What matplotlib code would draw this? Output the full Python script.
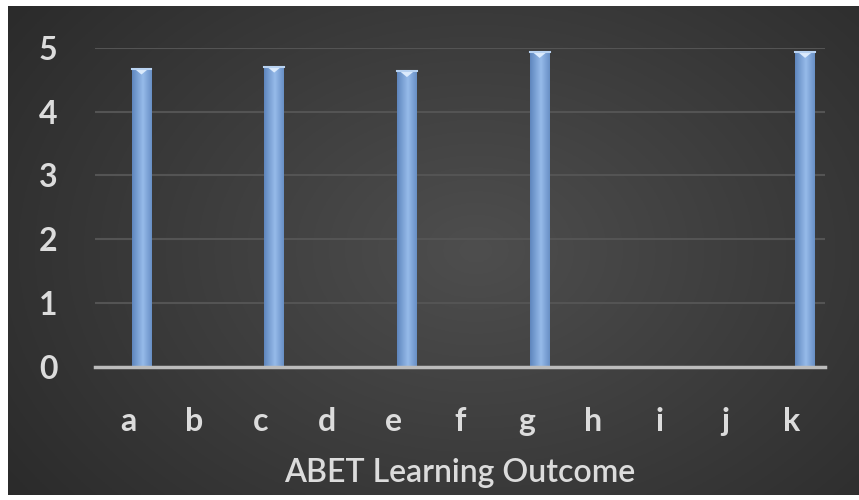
import numpy as np
import matplotlib.pyplot as plt
from matplotlib.patches import Polygon

# ABET outcome ratings (only some outcomes were assessed)
outcomes = ["a", "b", "c", "d", "e", "f", "g", "h", "i", "j", "k"]
rated = ["a", "c", "e", "g", "k"]
rated_scores = [4.67, 4.70, 4.63, 4.93, 4.93]
y_ticks = [0, 1, 2, 3, 4, 5]

W, H = 859, 500
fig = plt.figure(figsize=(W / 100, H / 100), dpi=100, facecolor="white")

# dark radial background panel
bg = fig.add_axes([8 / W, 5 / H, 1 - 8 / W, 1 - 11 / H])
bg.axis("off")
yy, xx = np.mgrid[0:1:300j, 0:1:500j]
d = np.sqrt(((xx - 0.55) / 0.75) ** 2 + ((yy - 0.5) / 0.95) ** 2)
shade = (0x4e - (0x4e - 0x27) * np.clip(d, 0, 1)) / 255
bg.imshow(np.dstack([shade, shade, shade]), extent=[0, 1, 0, 1], aspect="auto")
bg.set_xlim(0, 1)
bg.set_ylim(0, 1)

ax = fig.add_axes([95 / W, 133 / H, 730 / W, 319.3 / H])
ax.set_facecolor("none")

x = np.arange(len(outcomes))
pos = [outcomes.index(r) + 0.2 for r in rated]
bars = ax.bar(pos, rated_scores, width=0.3, color="#7ea6da", zorder=3)

# shaded cylinder look for each column
grad = np.linspace(0, 1, 60)
profile = 1 - np.abs(grad - 0.55) * 1.4
edge = np.array([0x4e, 0x76, 0xb0]) / 255
mid = np.array([0x96, 0xbb, 0xea]) / 255
cols = edge + (mid - edge) * np.clip(profile, 0, 1)[:, None]
for b in bars:
    x0, w, h = b.get_x(), b.get_width(), b.get_height()
    im = ax.imshow(cols[None, :, :], extent=[x0, x0 + w, 0, h],
                   aspect="auto", zorder=4)
    im.set_clip_path(b)
    tri = Polygon([(x0 + w * 0.15, h), (x0 + w * 0.85, h),
                   (x0 + w * 0.5, h - 0.09)], closed=True,
                  facecolor="#dcebfc", edgecolor="none", zorder=5)
    ax.add_patch(tri)
    ax.plot([x0, x0 + w], [h, h], color="#b9d3f2", lw=1.5, zorder=5)

ax.set_xlim(-0.5, len(outcomes) - 0.5)
ax.set_ylim(0, 5)
ax.set_xticks(x)
ax.set_xticklabels(outcomes)
ax.set_yticks(y_ticks)

ax.yaxis.grid(True, color="#545454", lw=1.5, zorder=0)
ax.set_axisbelow(True)
for s in ["top", "right", "left"]:
    ax.spines[s].set_visible(False)
ax.spines["bottom"].set_color("#bcbcbc")
ax.spines["bottom"].set_linewidth(2.5)
ax.spines["bottom"].set_zorder(6)

ax.tick_params(axis="both", length=0, colors="#dcdcdc")
ax.tick_params(axis="y", pad=27)
ax.tick_params(axis="x", pad=29)
for t in ax.get_xticklabels() + ax.get_yticklabels():
    t.set_family("Lato")
    t.set_fontweight("bold")
    t.set_fontsize(23)

ax.set_xlabel("ABET Learning Outcome", family="Lato", fontweight="semibold",
              fontsize=23, color="#dcdcdc", labelpad=16)

fig.savefig("out.png", dpi=100, facecolor="white")
